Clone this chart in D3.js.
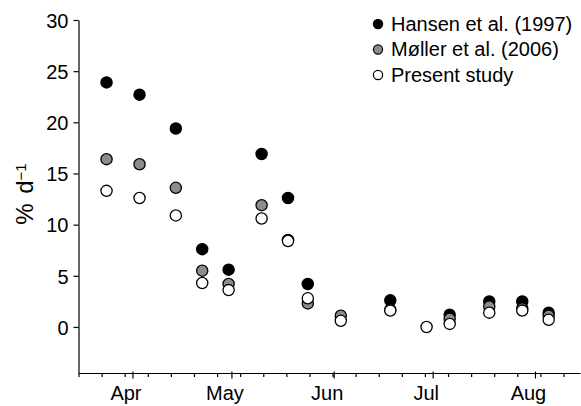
<!DOCTYPE html>
<html>
<head>
<meta charset="utf-8">
<script src="https://cdn.jsdelivr.net/npm/d3@7"></script>
<style>
  body { margin: 0; background: #fff; }
  text { font-family: "Liberation Sans", Arial, Helvetica, sans-serif; fill: #000; }
</style>
</head>
<body>
<div id="chart"></div>
<script>
// sampling dates
var dates = ["2008-03-24", "2008-04-03", "2008-04-14", "2008-04-22", "2008-04-30",
             "2008-05-10", "2008-05-18", "2008-05-24", "2008-06-03", "2008-06-18",
             "2008-06-29", "2008-07-06", "2008-07-18", "2008-07-28", "2008-08-05"];

// % d-1 per study
var hansen  = [23.9, 22.7, 19.4, 7.6, 5.6, 16.9, 12.6, 4.2, null, 2.6, null, 1.2, 2.5, 2.5, 1.4];
var moller  = [16.4, 15.9, 13.6, 5.5, 4.2, 11.9, 8.5, 2.3, 1.1, 1.7, null, 0.8, 2.0, 1.8, 1.1];
var present = [13.3, 12.6, 10.9, 4.3, 3.6, 10.6, 8.4, 2.8, 0.6, 1.6, 0.0, 0.3, 1.4, 1.6, 0.7];

var yTicks = [0, 5, 10, 15, 20, 25, 30];
var monthTicks = ["2008-04-01", "2008-05-01", "2008-06-01", "2008-07-01", "2008-08-01"];
var monthLabels = ["Apr", "May", "Jun", "Jul", "Aug"];

var seriesNames = ["Hansen et al. (1997)", "Møller et al. (2006)", "Present study"];
var seriesFill = ["#000000", "#8c8c8c", "#ffffff"];

var W = 581, H = 406;
var parse = d3.timeParse("%Y-%m-%d");
var start = d3.timeHour.offset(parse("2008-03-15"), 12);
var end = d3.timeHour.offset(parse("2008-08-14"), 12);

var x = d3.scaleTime().domain([start, end]).range([78.5, 580]);
var y = d3.scaleLinear().domain([-4.5, 30]).range([373, 20]);

var svg = d3.select("#chart").append("svg")
    .attr("width", W)
    .attr("height", H);

// Y axis
var yAxis = svg.append("g")
    .attr("transform", "translate(78.5,0)")
    .call(d3.axisLeft(y).tickValues(yTicks).tickSize(5).tickSizeOuter(0).tickPadding(5));
yAxis.selectAll("text").style("font-size", "20px").attr("dy", "0.36em");
yAxis.selectAll("line, path").attr("stroke", "#000").attr("stroke-width", 1.2);

// X axis: weekly minor ticks
var weeks = d3.range(0, 22).map(function (i) { return d3.timeDay.offset(start, i * 7); });
var xAxis = svg.append("g")
    .attr("transform", "translate(0,373)")
    .call(d3.axisBottom(x).tickValues(weeks).tickSize(4).tickSizeOuter(0).tickFormat(""));
xAxis.selectAll("line, path").attr("stroke", "#000").attr("stroke-width", 1.2);

// month ticks, slightly longer, labels
var months = monthTicks.map(parse);
svg.selectAll(".mtick")
    .data(months)
    .enter()
    .append("line")
    .attr("x1", function (d) { return x(d); })
    .attr("x2", function (d) { return x(d); })
    .attr("y1", 371.5)
    .attr("y2", 378.5)
    .attr("stroke", "#000")
    .attr("stroke-width", 1.2);

svg.selectAll(".mlabel")
    .data(months)
    .enter()
    .append("text")
    .attr("x", function (d) { return x(d) - 7; })
    .attr("y", 400)
    .attr("text-anchor", "middle")
    .style("font-size", "20px")
    .text(function (d, i) { return monthLabels[i]; });

// Y axis label
var ylab = svg.append("text")
    .attr("transform", "translate(33,194) rotate(-90)")
    .attr("text-anchor", "middle")
    .style("font-size", "24px");
ylab.append("tspan").text("%");
ylab.append("tspan").attr("dx", "0.4em").text("d");
ylab.append("tspan").attr("dy", "-0.45em").style("font-size", "15px").text("\u22121");

// points: black first, then grey, white on top
var allSeries = [hansen, moller, present];
allSeries.forEach(function (vals, s) {
    var pts = dates.map(function (d, i) { return { date: parse(d), v: vals[i] }; })
        .filter(function (p) { return p.v !== null; });
    svg.append("g")
        .selectAll("circle")
        .data(pts)
        .enter()
        .append("circle")
        .attr("cx", function (d) { return x(d.date); })
        .attr("cy", function (d) { return y(d.v); })
        .attr("r", 5.6)
        .attr("fill", seriesFill[s])
        .attr("stroke", "#000")
        .attr("stroke-width", 1.3);
});

// legend
var legend = svg.selectAll(".leg")
    .data(seriesNames)
    .enter()
    .append("g")
    .attr("transform", function (d, i) { return "translate(378," + (24 + i * 25.5) + ")"; });
legend.append("circle")
    .attr("r", 4.6)
    .attr("fill", function (d, i) { return seriesFill[i]; })
    .attr("stroke", "#000")
    .attr("stroke-width", 1.2);
legend.append("text")
    .attr("x", 13)
    .attr("y", 6.5)
    .style("font-size", "20px")
    .text(function (d) { return d; });
</script>
</body>
</html>
